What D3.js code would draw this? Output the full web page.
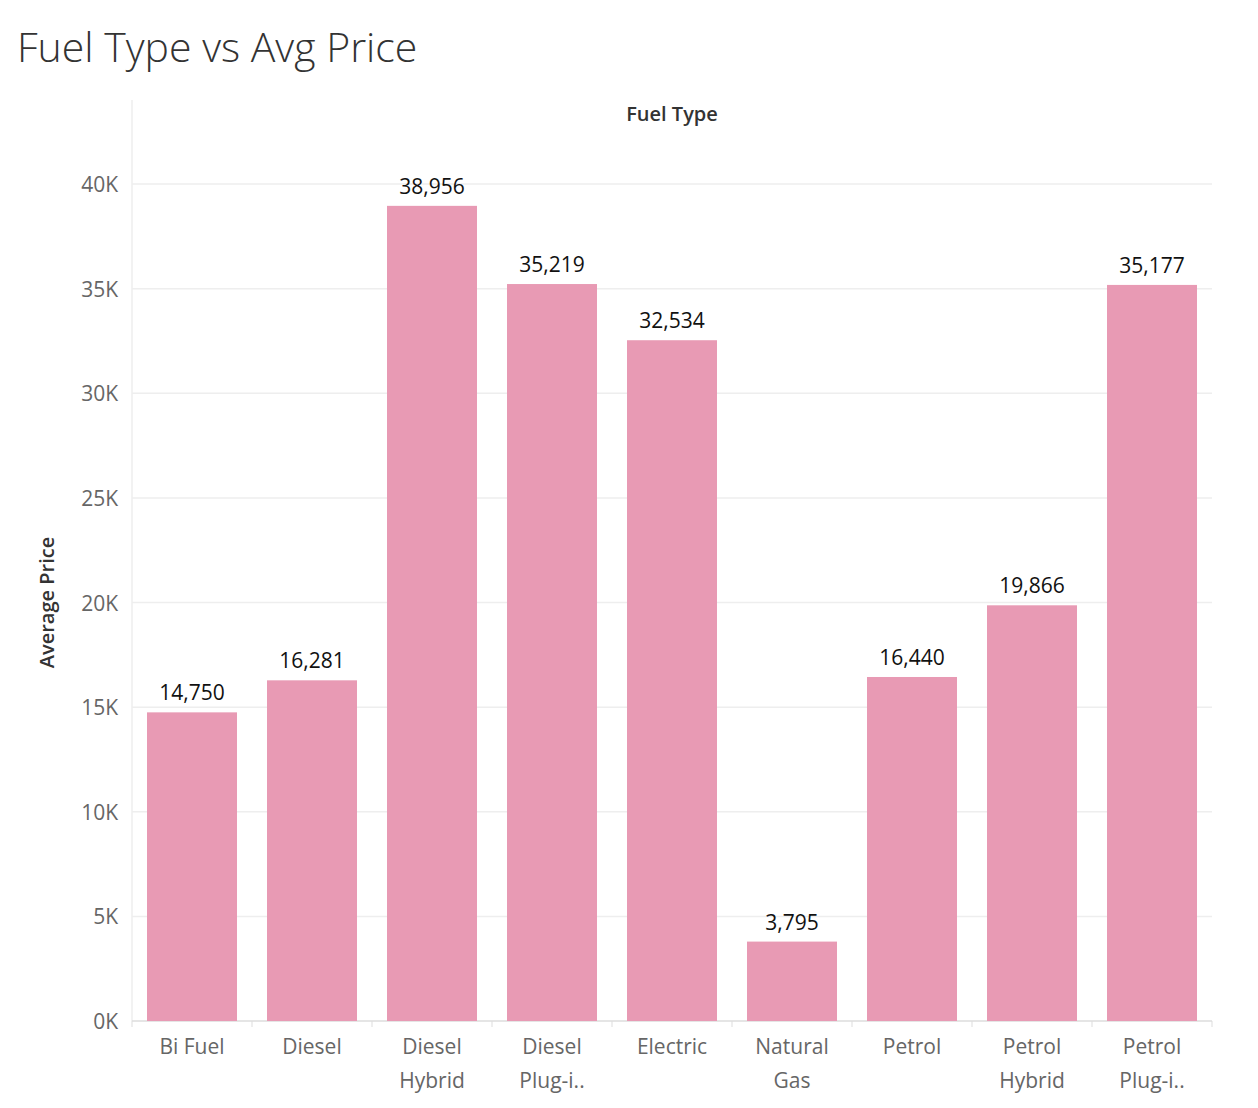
<!DOCTYPE html>
<html><head><meta charset="utf-8">
<script src="https://cdn.jsdelivr.net/npm/d3@7"></script>
<style>body{margin:0;background:#fff;font-family:"Open Sans",Lato,sans-serif;}</style>
</head><body>
<script>
var categories = [["Bi Fuel"],["Diesel"],["Diesel","Hybrid"],["Diesel","Plug-i.."],["Electric"],["Natural","Gas"],["Petrol"],["Petrol","Hybrid"],["Petrol","Plug-i.."]];
var values = [14750, 16281, 38956, 35219, 32534, 3795, 16440, 19866, 35177];
var ticks = [0,5000,10000,15000,20000,25000,30000,35000,40000];

var w = 1258, h = 1108;
var plotLeft = 132, plotRight = 1212, plotTop = 184, plotBottom = 1021;
var svg = d3.select("body").append("svg").attr("width", w).attr("height", h);

var x = d3.scaleBand().domain(d3.range(categories.length)).range([plotLeft, plotRight]).paddingInner(0.25).paddingOuter(0.125);
var y = d3.scaleLinear().domain([0, 40000]).range([plotBottom, plotTop]);

// title
svg.append("text").attr("x", 17).attr("y", 62).attr("font-size", 41).attr("font-weight", 300)
   .attr("fill", "#333").text("Fuel Type vs Avg Price");
svg.append("text").attr("x", (plotLeft + plotRight) / 2).attr("y", 121).attr("text-anchor", "middle")
   .attr("font-size", 20).attr("font-weight", 600).attr("fill", "#333").text("Fuel Type");
svg.append("text").attr("transform", "translate(54," + (plotBottom + plotTop) / 2 + ") rotate(-90)")
   .attr("text-anchor", "middle").attr("font-size", 20).attr("font-weight", 600).attr("fill", "#333").text("Average Price");

// gridlines
svg.selectAll(".grid").data(ticks.slice(1)).enter().append("line")
   .attr("x1", plotLeft).attr("x2", plotRight).attr("y1", d => y(d)).attr("y2", d => y(d))
   .attr("stroke", "#eeeeee").attr("stroke-width", 1.5);

// y ticks
svg.selectAll(".yt").data(ticks).enter().append("text")
   .attr("x", 118).attr("y", d => y(d) + 8).attr("text-anchor", "end")
   .attr("font-size", 21).attr("fill", "#666").text(d => (d / 1000) + "K");

// axis lines
svg.append("line").attr("x1", plotLeft).attr("x2", plotLeft).attr("y1", 100).attr("y2", plotBottom)
   .attr("stroke", "#eeeeee").attr("stroke-width", 1.5);
svg.append("line").attr("x1", plotLeft).attr("x2", plotRight).attr("y1", plotBottom).attr("y2", plotBottom)
   .attr("stroke", "#dddddd").attr("stroke-width", 1.5);
var step = x.step();
svg.selectAll(".xt").data(d3.range(categories.length + 1)).enter().append("line")
   .attr("x1", d => plotLeft + d * step).attr("x2", d => plotLeft + d * step)
   .attr("y1", plotBottom).attr("y2", plotBottom + 6).attr("stroke", "#dddddd");

// bars
svg.selectAll(".bar").data(values).enter().append("rect")
   .attr("x", (d, i) => x(i)).attr("width", x.bandwidth())
   .attr("y", d => y(d)).attr("height", d => plotBottom - y(d)).attr("fill", "#e89ab4");

svg.selectAll(".lbl").data(values).enter().append("text")
   .attr("x", (d, i) => x(i) + x.bandwidth() / 2).attr("y", d => y(d) - 12)
   .attr("text-anchor", "middle").attr("font-size", 21).attr("fill", "#111")
   .text(d => d3.format(",")(d));

// category labels
categories.forEach(function (lines, i) {
  lines.forEach(function (t, j) {
    svg.append("text").attr("x", x(i) + x.bandwidth() / 2).attr("y", 1054 + j * 34)
       .attr("text-anchor", "middle").attr("font-size", 21).attr("fill", "#666").text(t);
  });
});
</script>
</body></html>
